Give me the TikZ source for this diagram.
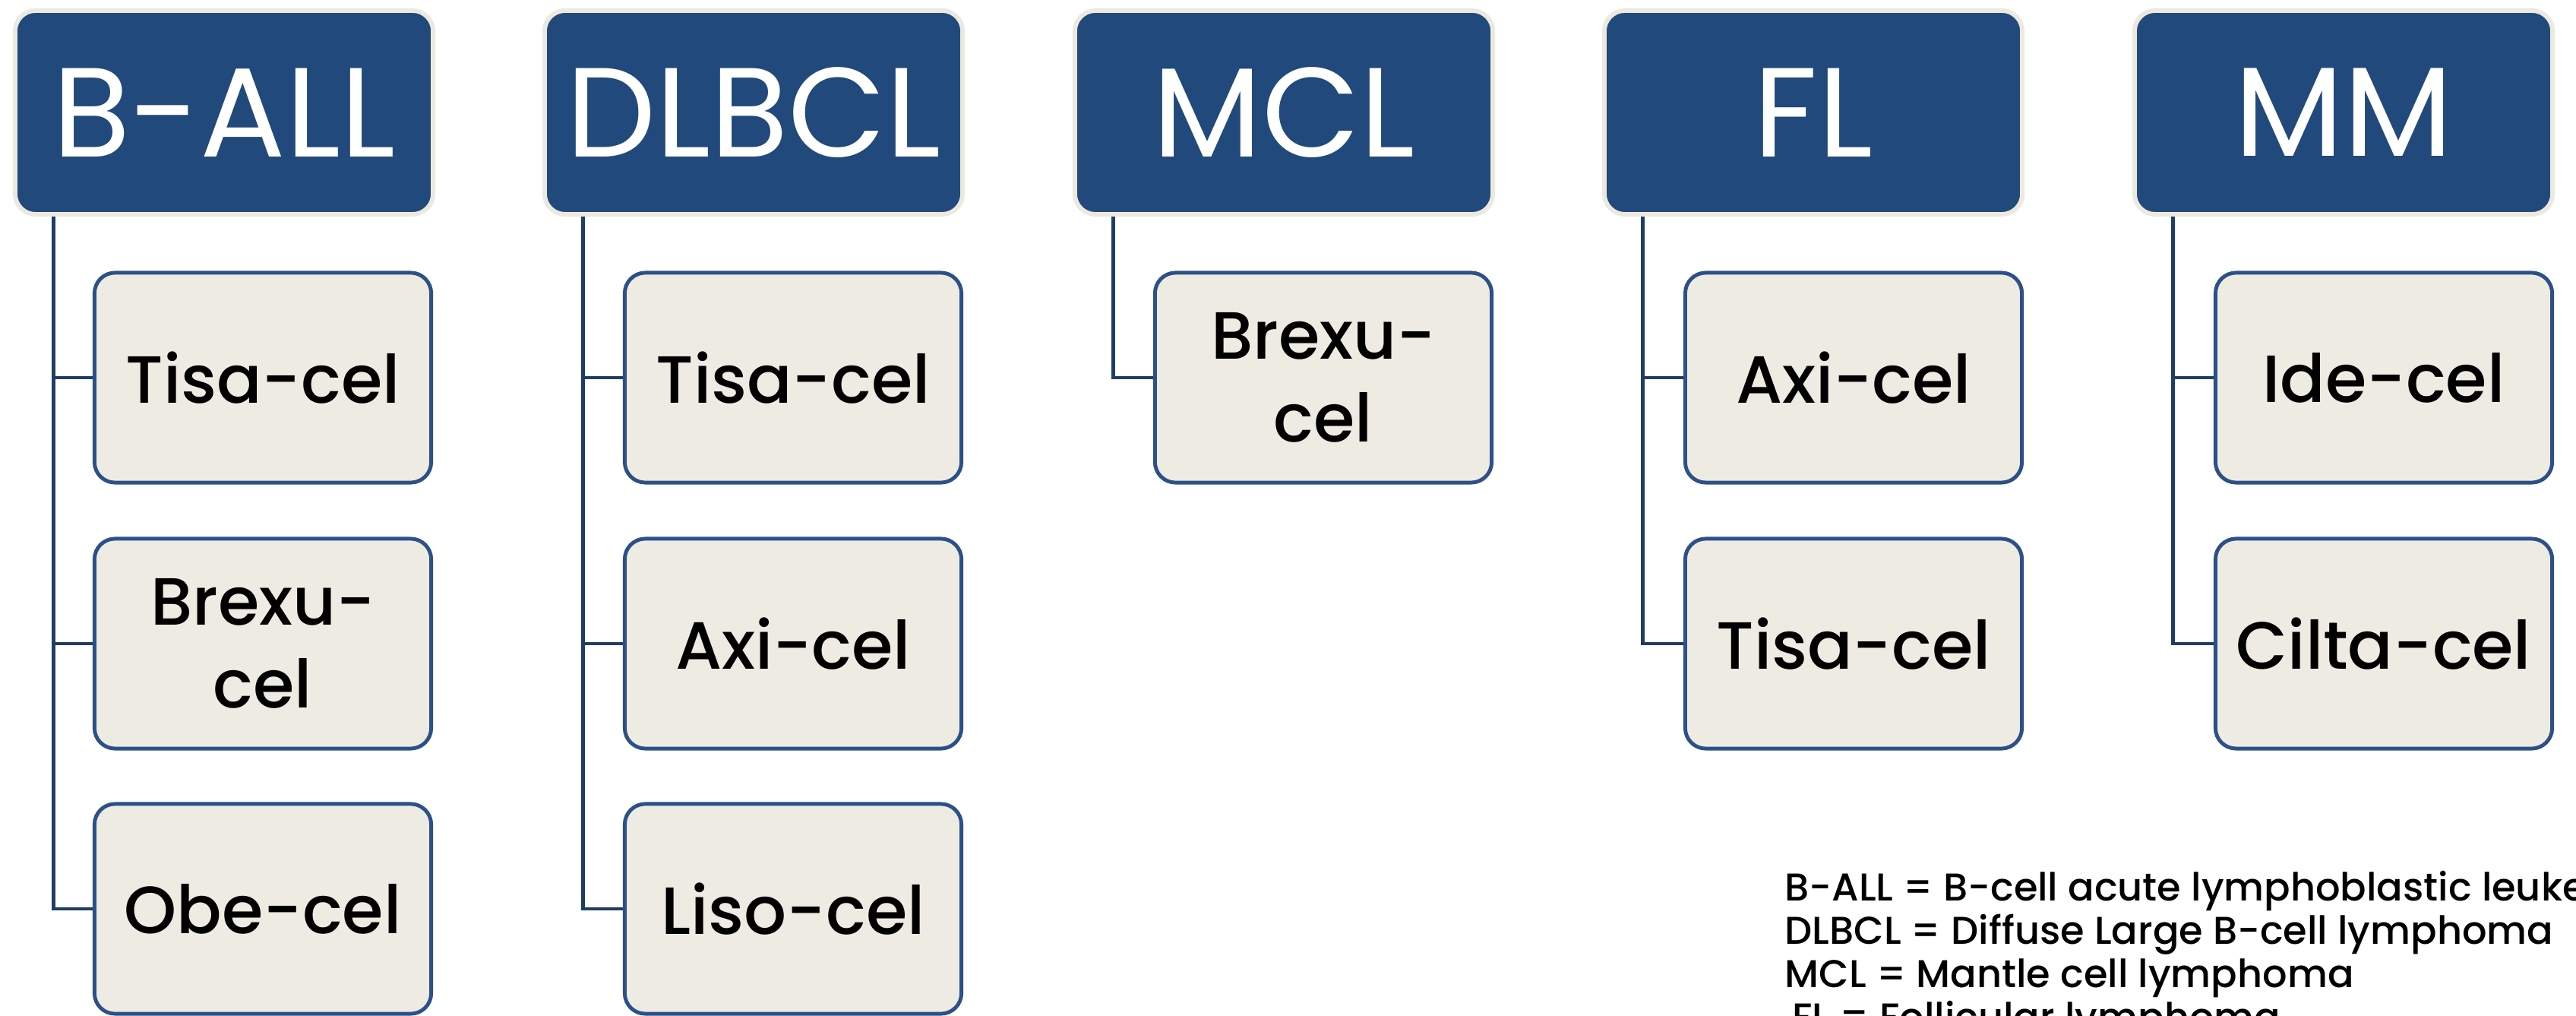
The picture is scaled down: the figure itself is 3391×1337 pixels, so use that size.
\documentclass[tikz,border=0pt]{standalone}
\usepackage{fontspec}
\setmainfont{Poppins}
\newfontfamily\poppinsmed{Poppins Medium}
\definecolor{hdrblue}{RGB}{33,73,123}
\definecolor{hdrrim}{RGB}{236,233,224}
\definecolor{boxbeige}{RGB}{238,235,227}
\definecolor{boxline}{RGB}{44,80,135}
\definecolor{linkblue}{RGB}{31,61,103}

\begin{document}
\begin{tikzpicture}[
		x=0.01cm, y=-0.01cm,
		disease/.style={draw=hdrrim, line width=1.7pt, fill=hdrblue, text=white,
			rounded corners=0.27cm, minimum width=5.5cm, minimum height=2.68cm,
			inner sep=0pt, font=\fontsize{47.5}{52}\selectfont},
		therapy/.style={draw=boxline, line width=1.4pt, fill=boxbeige, text=black,
			rounded corners=0.27cm, minimum width=4.43cm, minimum height=2.76cm,
			inner sep=0pt, align=center, font=\poppinsmed\fontsize{25}{31}\selectfont},
		link/.style={draw=linkblue, line width=1.4pt},
		legend/.style={anchor=base west, inner sep=0pt, font=\poppinsmed\fontsize{14.5}{16}\selectfont}
	]
	\useasboundingbox (0,0) rectangle (3391,1337);
	\clip (0,0) rectangle (3391,1337);

	% Disease headers
	\node[disease] (ball)  at (295,148)  {B-ALL};
	\node[disease] (dlbcl) at (992,148)  {DLBCL};
	\node[disease] (mcl)   at (1690,148) {MCL};
	\node[disease] (fl)    at (2387,148) {FL};
	\node[disease] (mm)    at (3085,148) {MM};

	% Therapies
	\node[therapy] (ball1) at (346,497)  {Tisa-cel};
	\node[therapy] (ball2) at (346,847)  {Brexu-\\cel};
	\node[therapy] (ball3) at (346,1196) {Obe-cel};

	\node[therapy] (dlbcl1) at (1044,497)  {Tisa-cel};
	\node[therapy] (dlbcl2) at (1044,847)  {Axi-cel};
	\node[therapy] (dlbcl3) at (1044,1196) {Liso-cel};

	\node[therapy] (mcl1) at (1742,497) {Brexu-\\cel};

	\node[therapy] (fl1) at (2440,497) {Axi-cel};
	\node[therapy] (fl2) at (2440,847) {Tisa-cel};

	\node[therapy] (mm1) at (3138,497) {Ide-cel};
	\node[therapy] (mm2) at (3138,847) {Cilta-cel};

	% Connections
	\draw[link] ([xshift=0.54cm]ball.south west) |- (ball1.west);
	\draw[link] ([xshift=0.54cm]ball.south west) |- (ball2.west);
	\draw[link] ([xshift=0.54cm]ball.south west) |- (ball3.west);

	\draw[link] ([xshift=0.54cm]dlbcl.south west) |- (dlbcl1.west);
	\draw[link] ([xshift=0.54cm]dlbcl.south west) |- (dlbcl2.west);
	\draw[link] ([xshift=0.54cm]dlbcl.south west) |- (dlbcl3.west);

	\draw[link] ([xshift=0.54cm]mcl.south west) |- (mcl1.west);

	\draw[link] ([xshift=0.54cm]fl.south west) |- (fl1.west);
	\draw[link] ([xshift=0.54cm]fl.south west) |- (fl2.west);

	\draw[link] ([xshift=0.54cm]mm.south west) |- (mm1.west);
	\draw[link] ([xshift=0.54cm]mm.south west) |- (mm2.west);

	% Abbreviations
	\node[legend] (leg1) at (2349,1185) {B-ALL = B-cell acute lymphoblastic leukemia};
	\node[legend] (leg2) at (2349,1242) {DLBCL = Diffuse Large B-cell lymphoma};
	\node[legend] (leg3) at (2349,1299) {MCL = Mantle cell lymphoma};
	\node[legend] (leg4) at (2359,1356) {FL = Follicular lymphoma};
\end{tikzpicture}
\end{document}
